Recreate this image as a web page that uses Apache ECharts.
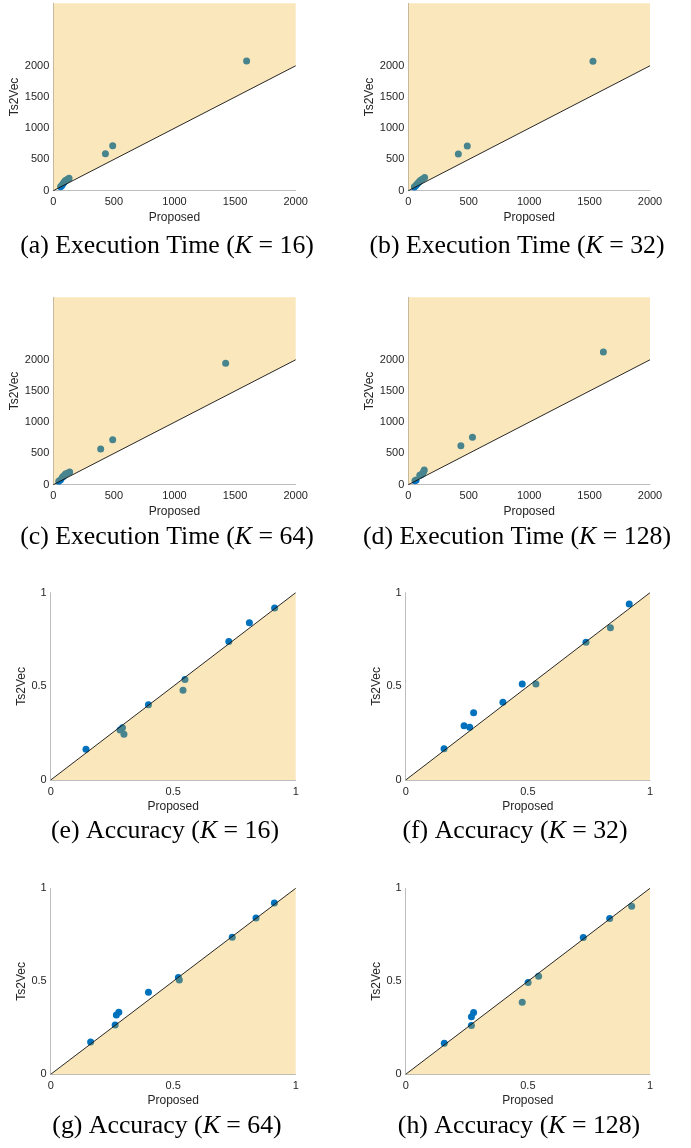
<!DOCTYPE html>
<html>
<head>
<meta charset="utf-8">
<script src="https://cdn.jsdelivr.net/npm/echarts@6/dist/echarts.min.js"></script>
<style>
html,body{margin:0;padding:0;background:#fff;}
#main{width:691px;height:1148px;}
</style>
</head>
<body>
<div id="main"></div>
<script>
// ---- Data ----
// Execution time: [Proposed, Ts2Vec]
var execK16  = [[60,62],[70,85],[80,110],[90,140],[100,165],[115,180],[130,200],[430,590],[490,720],[1595,2075]];
var execK32  = [[50,60],[62,85],[75,110],[88,140],[100,165],[115,185],[135,210],[414,586],[488,714],[1528,2073]];
var execK64  = [[45,55],[60,80],[75,120],[85,140],[100,170],[115,185],[135,205],[391,573],[490,718],[1422,1946]];
var execK128 = [[55,65],[65,75],[95,150],[105,160],[120,185],[128,215],[132,235],[435,622],[531,761],[1614,2123]];
// Accuracy: [Proposed, Ts2Vec]
var accK16  = [[0.144,0.164],[0.283,0.267],[0.293,0.279],[0.299,0.244],[0.399,0.402],[0.540,0.479],[0.548,0.537],[0.727,0.740],[0.811,0.840],[0.914,0.918]];
var accK32  = [[0.157,0.167],[0.239,0.290],[0.262,0.281],[0.278,0.359],[0.398,0.415],[0.477,0.512],[0.533,0.512],[0.738,0.735],[0.838,0.813],[0.915,0.940]];
var accK64  = [[0.163,0.174],[0.263,0.265],[0.268,0.319],[0.278,0.333],[0.399,0.441],[0.521,0.520],[0.525,0.507],[0.741,0.737],[0.838,0.840],[0.913,0.921]];
var accK128 = [[0.158,0.167],[0.269,0.262],[0.269,0.310],[0.278,0.332],[0.477,0.387],[0.501,0.493],[0.544,0.527],[0.727,0.735],[0.835,0.837],[0.925,0.903]];
// Diagonals
var execDiag = [[0,0],[2000,2000]];
var accDiag  = [[0,0],[1,1]];
// Tick labels
var execTicks = [0,500,1000,1500,2000];
var accTicks  = [0,0.5,1];
var captions = [
  ['(a) Execution Time (','16)'],
  ['(b) Execution Time (','32)'],
  ['(c) Execution Time (','64)'],
  ['(d) Execution Time (','128)'],
  ['(e) Accuracy (','16)'],
  ['(f) Accuracy (','32)'],
  ['(g) Accuracy (','64)'],
  ['(h) Accuracy (','128)']
];
var xName = 'Proposed', yName = 'Ts2Vec';

// ---- Layout ----
var panels = [
  {left:53.3, top:3.3,  w:242.4, h:187.4, kind:'exec', data:execK16},
  {left:408.3,top:3.3,  w:241.7, h:187.4, kind:'exec', data:execK32},
  {left:53.3, top:297.3,w:242.4, h:187.4, kind:'exec', data:execK64},
  {left:408.3,top:297.3,w:241.7, h:187.4, kind:'exec', data:execK128},
  {left:50.7, top:592.7,w:245,   h:187.3, kind:'acc',  data:accK16},
  {left:405.7,top:592.7,w:244.3, h:187.3, kind:'acc',  data:accK32},
  {left:50.7, top:888.3,w:245,   h:186,   kind:'acc',  data:accK64},
  {left:405.7,top:888.3,w:244.3, h:186,   kind:'acc',  data:accK128}
];
var capPos = [[167,247],[517,247],[167,538],[517,538],[165,832],[515,832],[167,1127],[519,1127]];

var FONT = 'Liberation Sans, Arial, Helvetica, sans-serif';
var SERIF = 'Liberation Serif, Times New Roman, serif';
var CAPSIZE = 25.8;
var axisLineStyle = {color:'#bdbdbd', width:1};
var labelColor = '#262626';
function fmt(v){ return String(v); }

var grids=[], xAxes=[], yAxes=[], series=[], titles=[];
panels.forEach(function(p,i){
  var isExec = p.kind==='exec';
  grids.push({left:p.left, top:p.top, width:p.w, height:p.h, containLabel:false});
  xAxes.push({
    type:'value', gridIndex:i, min:0, max:isExec?2000:1, interval:isExec?500:0.5,
    name:xName, nameLocation:'middle', nameGap:20.5,
    nameTextStyle:{fontFamily:FONT, fontSize:12, color:labelColor},
    axisLine:{show:true, onZero:false, lineStyle:axisLineStyle},
    axisTick:{show:false}, splitLine:{show:false},
    axisLabel:{fontFamily:FONT, fontSize:11, color:labelColor, margin:6, formatter:fmt,
               customValues: isExec?execTicks:accTicks}
  });
  yAxes.push({
    type:'value', gridIndex:i, min:0, max:isExec?3000:1, interval:isExec?500:0.5,
    name:yName, nameLocation:'middle', nameGap:isExec?28:19, nameRotate:90,
    nameTextStyle:{fontFamily:FONT, fontSize:12, color:labelColor},
    axisLine:{show:true, onZero:false, lineStyle:axisLineStyle},
    axisTick:{show:false}, splitLine:{show:false},
    axisLabel:{fontFamily:FONT, fontSize:11, color:labelColor, margin:4, formatter:fmt,
               customValues: isExec?execTicks:accTicks}
  });
  series.push({
    type:'scatter', xAxisIndex:i, yAxisIndex:i, data:p.data, z:2,
    symbol:'circle', symbolSize:7, itemStyle:{color:'#0072BD', opacity:1}
  });
  series.push({
    type:'line', xAxisIndex:i, yAxisIndex:i, data:isExec?execDiag:accDiag, z:3,
    symbol:'none', silent:true,
    lineStyle:{color:'#111', width:0.9},
    areaStyle:{color:'#EDB120', opacity:0.3, origin:isExec?'end':'start'}
  });
  titles.push({
    text:'{n|'+captions[i][0]+'}{k|K}{n| = '+captions[i][1]+'}',
    left:capPos[i][0], top:capPos[i][1]-CAPSIZE/2-1, textAlign:'center', padding:0,
    textStyle:{
      fontWeight:'normal',
      rich:{
        n:{fontFamily:SERIF, fontSize:CAPSIZE, fontWeight:'normal', color:'#000'},
        k:{fontFamily:SERIF, fontSize:CAPSIZE, fontWeight:'normal', fontStyle:'italic', color:'#000'}
      }
    }
  });
});

var chart = echarts.init(document.getElementById('main'), null, {renderer:'canvas'});
chart.setOption({
  animation:false,
  backgroundColor:'#fff',
  title:titles,
  grid:grids, xAxis:xAxes, yAxis:yAxes, series:series
});
</script>
</body>
</html>
